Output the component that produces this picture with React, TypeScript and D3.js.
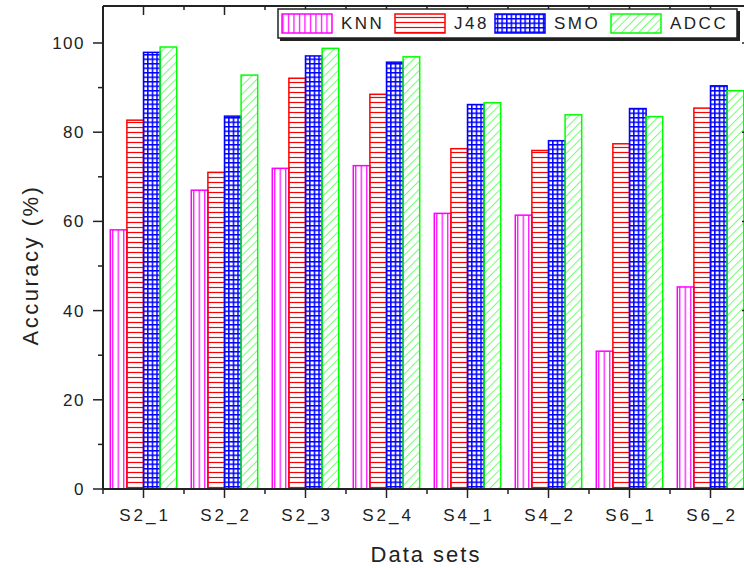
import React from 'react'
import * as d3 from 'd3'

const categories = ['S2_1', 'S2_2', 'S2_3', 'S2_4', 'S4_1', 'S4_2', 'S6_1', 'S6_2']
const seriesNames = ['KNN', 'J48', 'SMO', 'ADCC']
const legendLabels = ['KNN', 'J48', 'SMO', 'ADCC']
const knn = [58.1, 67.0, 71.9, 72.5, 61.8, 61.4, 30.9, 45.3]
const j48 = [82.7, 71.0, 92.1, 88.5, 76.3, 75.9, 77.4, 85.4]
const smo = [97.9, 83.6, 97.1, 95.7, 86.2, 78.1, 85.3, 90.4]
const adcc = [99.1, 92.8, 98.8, 96.9, 86.6, 83.9, 83.5, 89.3]
const yTicks = [0, 20, 40, 60, 80, 100]
const yMinorTicks = [10, 30, 50, 70, 90]

const colors = ['#ff00ff', '#ff0000', '#0000ff', '#00ff00']
const values = [knn, j48, smo, adcc]

const W = 744
const H = 568
const left = 103
const right = 751
const top = 6
const bottom = 489
const font = 'Liberation Sans, Arial, sans-serif'
const axisColor = '#222'

const x = d3.scaleBand().domain(categories).range([left, right]).paddingInner(0.18).paddingOuter(0.09)
const xs = d3.scaleBand().domain(seriesNames).range([0, x.bandwidth()])
const y = d3.scaleLinear().domain([0, (bottom - top) / 4.46]).range([bottom, top])

const Patterns = () => (
  <defs>
    <pattern id='p-KNN' patternUnits='userSpaceOnUse' width='5.5' height='10'>
      <line x1='2.5' y1='0' x2='2.5' y2='10' stroke={colors[0]} strokeWidth='1.2' />
    </pattern>
    <pattern id='p-J48' patternUnits='userSpaceOnUse' width='10' height='5'>
      <line x1='0' y1='2.5' x2='10' y2='2.5' stroke={colors[1]} strokeWidth='1.2' />
    </pattern>
    <pattern id='p-SMO' patternUnits='userSpaceOnUse' width='4.6' height='4.5'>
      <line x1='0' y1='0.75' x2='4.6' y2='0.75' stroke={colors[2]} strokeWidth='1.5' />
      <line x1='0.75' y1='0' x2='0.75' y2='4.5' stroke={colors[2]} strokeWidth='1.5' />
    </pattern>
    <pattern id='p-ADCC' patternUnits='userSpaceOnUse' width='6' height='6' patternTransform='rotate(45)'>
      <line x1='0' y1='0' x2='0' y2='6' stroke={colors[3]} strokeWidth='1.1' />
    </pattern>
  </defs>
)

const App = () => {
  const legendX = [282, 395, 495, 611]
  return (
    <svg width={W} height={H} style={{ position: 'absolute', left: 0, top: 0 }} fontFamily={font}>
      <Patterns />
      <rect width={W} height={H} fill='#fff' />

      {/* bars */}
      {categories.map((c, i) => (
        <g key={c} transform={`translate(${x(c)},0)`}>
          {seriesNames.map((s, k) => (
            <rect
              key={s}
              x={xs(s)}
              y={y(values[k][i])}
              width={xs.bandwidth()}
              height={y(0) - y(values[k][i])}
              fill={`url(#p-${s})`}
              stroke={colors[k]}
              strokeWidth='1.5'
            />
          ))}
        </g>
      ))}

      {/* frame */}
      <line x1={left} y1={top} x2={right} y2={top} stroke={axisColor} strokeWidth='2' />
      <line x1={left} y1={top} x2={left} y2={bottom} stroke={axisColor} strokeWidth='2' />
      <line x1={left} y1={bottom} x2={right} y2={bottom} stroke={axisColor} strokeWidth='2' />
      <line x1={right} y1={top} x2={right} y2={bottom} stroke={axisColor} strokeWidth='2' />

      {/* y ticks */}
      {yTicks.map(t => (
        <g key={t}>
          <line x1={left - 10} x2={left} y1={y(t)} y2={y(t)} stroke={axisColor} strokeWidth='1.5' />
          <line x1={right - 9} x2={right} y1={y(t)} y2={y(t)} stroke={axisColor} strokeWidth='1.5' />
          <text x={85} y={y(t)} dy='0.35em' textAnchor='end' fontSize='17' letterSpacing='1.5' fill='#222'>{t}</text>
        </g>
      ))}
      {yMinorTicks.map(t => (
        <g key={t}>
          <line x1={left - 5} x2={left} y1={y(t)} y2={y(t)} stroke={axisColor} strokeWidth='1.5' />
          <line x1={right - 5} x2={right} y1={y(t)} y2={y(t)} stroke={axisColor} strokeWidth='1.5' />
        </g>
      ))}

      {/* x ticks */}
      {categories.map(c => {
        const cx = x(c) + x.bandwidth() / 2
        return (
          <g key={c}>
            <line x1={cx} x2={cx} y1={bottom} y2={bottom + 9} stroke={axisColor} strokeWidth='1.5' />
            <line x1={cx} x2={cx} y1={top} y2={top + 9} stroke={axisColor} strokeWidth='1.5' />
            <text x={cx + 1.5} y={521} textAnchor='middle' fontSize='17' letterSpacing='3' fill='#222'>{c}</text>
          </g>
        )
      })}
      {d3.range(categories.length + 1).map(i => {
        const bx = left + i * x.step()
        return (
          <g key={i}>
            <line x1={bx} x2={bx} y1={bottom} y2={bottom + 5} stroke={axisColor} strokeWidth='1.5' />
            <line x1={bx} x2={bx} y1={top} y2={top + 4} stroke={axisColor} strokeWidth='1.5' />
          </g>
        )
      })}

      {/* axis titles */}
      <text x={426} y={562} textAnchor='middle' fontSize='22' letterSpacing='2' fill='#222'>Data sets</text>
      <text transform='translate(38,265) rotate(-90)' textAnchor='middle' fontSize='22' letterSpacing='2.5' fill='#222'>Accuracy (%)</text>

      {/* legend */}
      <rect x={280} y={11} width={460} height={30} fill='#222' />
      <rect x={278} y={9} width={459} height={29} fill='#fff' stroke='#222' strokeWidth='1.5' />
      {seriesNames.map((s, k) => (
        <g key={s}>
          <rect x={legendX[k]} y={14} width={50} height={19} fill={`url(#p-${s})`} stroke={colors[k]} strokeWidth='1.5' />
          <text x={legendX[k] + 59} y={23.5} dy='0.35em' fontSize='17' letterSpacing='2.5' fill='#222'>{legendLabels[k]}</text>
        </g>
      ))}
    </svg>
  )
}

export default App
